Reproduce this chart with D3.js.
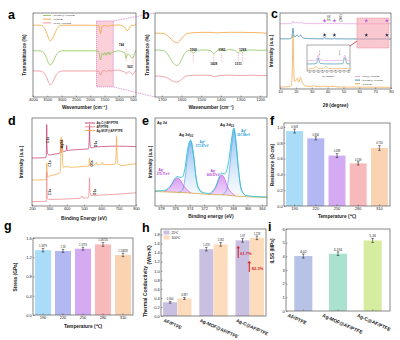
<!DOCTYPE html>
<html>
<head>
<meta charset="utf-8">
<script src="https://cdn.jsdelivr.net/npm/d3@7"></script>
<style>
  body { margin: 0; background: #fff; }
  svg { display: block; }
</style>
</head>
<body>
<svg id="fig" width="400" height="340"></svg>
<script>

// ---------- a: FTIR, [wavenumber, transmittance]
var ftirAF = [[4000,85.5],[3800,85.5],[3700,85],[3600,82],[3520,76],[3450,69.5],[3400,67],[3340,68.5],[3270,73],[3180,80],[3080,84.5],[2950,85.5],[2500,85.5],[2000,85.5],[1800,85.3],[1700,84.8],[1665,80],[1640,75.5],[1615,79],[1585,84.5],[1500,85],[1420,84.3],[1300,85],[1200,85.5],[1100,85.5],[1000,85.8],[900,85],[800,83],[720,79],[680,79.5],[620,83],[560,85.5],[480,85],[400,87]];
var ftirMOF = [[4000,55],[3800,55],[3700,54.5],[3600,51.5],[3520,46],[3450,40],[3400,38],[3340,39.5],[3270,44],[3180,50.5],[3080,54],[2950,55],[2500,55],[2000,55],[1800,55],[1700,54],[1665,48],[1640,44],[1615,47],[1585,52],[1540,50],[1500,53],[1440,49.5],[1400,53],[1382,51],[1340,53.5],[1311,50],[1290,52],[1200,53.5],[1100,54.5],[1000,55],[900,54],[800,53],[744,46],[700,51],[620,50],[560,47],[503,46.5],[450,52],[400,55]];
var ftirC = [[4000,31],[3800,31],[3700,30.5],[3600,28],[3520,23],[3450,17],[3400,14.5],[3340,16],[3270,20.5],[3180,26.5],[3080,30],[2950,31],[2500,31],[2000,31],[1800,31],[1700,30.5],[1665,28],[1640,26],[1615,27.5],[1585,30.5],[1500,31.5],[1430,30],[1380,31.5],[1300,31],[1200,31.5],[1100,32],[1000,32],[900,31],[800,30],[744,27.5],[700,29.5],[620,30],[560,28],[503,27],[450,30],[400,32]];
var ftirTicks = [4000,3500,3000,2500,2000,1500,1000,500];
var ftirMarks = [744, 503];

// ---------- b: FTIR zoom 1735-1165
var zoomAF = [[1735,76],[1700,75.8],[1680,74.5],[1660,70.5],[1640,66],[1625,64.5],[1610,66.5],[1595,71],[1580,74.5],[1560,76],[1520,76.8],[1480,77],[1440,76.8],[1420,76.2],[1400,76.8],[1350,77],[1300,77],[1250,76.8],[1200,76.5],[1165,76]];
var zoomMOF = [[1735,56],[1700,55.5],[1680,53.5],[1660,47],[1640,40],[1625,37.5],[1610,40],[1595,47],[1580,53],[1560,55.5],[1540,52.5],[1520,55.5],[1480,56],[1450,55],[1436,51.5],[1420,55],[1395,57],[1380,55],[1360,56.5],[1330,55.5],[1311,52.5],[1298,55],[1289,53],[1275,55.5],[1240,56],[1200,55.5],[1165,56]];
var zoomC = [[1735,25],[1700,24.5],[1680,23.5],[1660,21],[1640,18.5],[1625,17.8],[1610,19],[1595,22],[1580,24.5],[1560,25.5],[1500,26],[1450,25.5],[1430,24],[1410,25.5],[1350,26],[1300,25.5],[1250,26],[1200,25.5],[1165,25.5]];
var zoomTicks = [1700,1600,1500,1400,1300,1200];
var zoomMarks = [1540, 1436, 1395, 1311, 1289];
var zoomMarkLabels = ["1568", "1428", "1382", "1311", "1288"];
var zoomMarkUp = [true, false, true, false, true];

// ---------- c: XRD, [2theta, intensity]
var xrdAF = [[10,2.5],[15,3],[16.5,3.5],[17.3,6],[17.8,30],[18.2,71],[18.6,35],[19.0,12],[19.6,10],[20.3,12.5],[20.9,14.5],[21.5,10],[22.0,9],[22.5,13],[23.0,15.5],[23.6,11],[24.5,7],[26,4.5],[28,3.5],[30,3.5],[31,5],[32,3.5],[36,3],[38.1,4],[40,3],[44.3,3.5],[46,2.8],[50,2.5],[60,2.5],[70,2.3],[80,2.2]];
var xrdMOF = [[10,66],[16,66],[17.3,67],[17.8,73],[18.2,80],[18.6,73],[19.2,68.5],[20.3,70],[20.9,71],[21.6,69],[22.2,69.5],[23,71],[23.8,68.5],[25,67],[28,66.3],[35,66],[37.5,66],[38.1,68],[38.7,66],[43.8,66],[44.3,67.5],[44.8,66],[60,65.8],[80,65.8]];
var xrdC = [[10,85.8],[16,86],[17.5,86.5],[18.2,89.5],[18.8,86.8],[20.5,87.5],[21.5,86.8],[23,87.8],[24,86.8],[28,86],[37.5,86],[38.1,87.5],[38.7,86],[43.8,86],[44.3,87.2],[44.8,86],[60,85.8],[80,85.8]];
var starPos = [38.1, 44.3, 64.4, 77.4];
var xrdTicks = [10,20,30,40,50,60,70,80];
var insetAF = [[35.5,8],[36.8,9],[37.5,16],[38.2,10],[39.2,10],[39.8,17],[40.5,10],[42,8.5],[44.3,9.5],[45.5,8]];
var insetMOF = [[35.5,27],[37,27.5],[37.7,29],[38.1,50],[38.5,30],[39.5,27.5],[42,27],[43.8,28],[44.3,52],[44.8,28],[45.5,27]];
var insetC = [[35.5,40],[37,40.5],[37.7,42],[38.1,62],[38.5,43],[39.5,40.5],[42,40],[43.8,41],[44.3,61],[44.8,41],[45.5,40]];
var insetTicks = [36,37,38,39,40,41,42,43,44,45];

// ---------- d: XPS survey, [binding energy, intensity]
var xpsC = [[200,54.5],[270,54.8],[281,55.5],[284,70],[285,92.5],[286.5,68],[290,59],[300,58],[330,59],[360,60],[366,66],[368,74],[370,65],[372,66],[374,70],[376,63],[385,62],[398,63],[400,69],[402,63],[420,63.5],[500,64.5],[525,65],[530,75],[532,92.5],[534,72],[540,66],[560,67],[600,67.5],[700,68],[800,67.5]];
var xpsMOF = [[200,29.5],[270,29.8],[282,30.5],[284,40],[285,49],[286.5,38],[290,33],[300,34],[340,36],[362,38],[366,55],[368,78],[370,60],[372,63],[374,76],[376,52],[380,44],[400,45],[420,44],[500,45],[528,45.5],[532,54.5],[536,46],[565,47],[573,50],[577,46.5],[600,48],[606,50],[612,47],[680,47.5],[686,65],[688,79],[690,62],[695,48],[720,46],[760,47],[800,48]];
var xpsAF = [[200,5],[270,5.2],[282,5.5],[284,25],[285,39],[286.5,20],[290,8],[300,7.5],[400,8],[480,9],[488,11.5],[495,9],[525,9.5],[530,20],[532,32],[534,18],[540,12],[600,12.5],[700,13.5],[800,15]];
var xpsTicks = [200,300,400,500,600,700,800];

// ---------- e: Ag 3d fit
var agBase = [[378.8,14.5],[377,14],[375,13.5],[373,12.5],[371,11.5],[369,11],[367,9.5],[365,9],[363.3,8.5]];
var agEnv = [[378.8,15],[377.6,15.5],[377,17.5],[376.5,22],[376.1,27],[375.71,29.5],[375.3,28.5],[375.0,29],[374.6,40],[374.3,56],[373.87,66],[373.45,50],[373.15,30],[372.7,17],[372.1,13.5],[371.4,12.5],[370.8,15],[370.3,21],[369.9,29],[369.57,33],[369.2,32],[368.9,35],[368.5,50],[368.2,67],[367.88,78],[367.55,61],[367.25,37],[366.85,17],[366.2,10.5],[365,9.5],[363.3,9]];
var ag0a = [[375.6,13.5],[375.0,16],[374.6,30],[374.3,50],[373.87,65],[373.45,50],[373.15,30],[372.7,16],[372.1,12.8]];
var ag0b = [[369.5,11],[368.9,16],[368.5,36],[368.2,60],[367.88,77],[367.55,60],[367.25,36],[366.85,16],[366.2,10]];
var agPa = [[377.6,14.3],[377,16.5],[376.5,21],[376.1,26],[375.71,28],[375.3,26],[374.9,21],[374.4,16.5],[373.8,13]];
var agPb = [[371.4,11.5],[370.8,14],[370.3,20],[369.9,28],[369.57,31],[369.2,28],[368.8,20],[368.3,14],[367.7,10.5]];
var agTicks = [378,376,374,372,370,368,366,364];

// ---------- f, g: bars vs temperature
var temps = ["190", "220", "250", "280", "310"];
var resistance = [0.948, 0.856, 0.638, 0.539, 0.734];
var resistanceErr = [0.025, 0.02, 0.025, 0.02, 0.03];
var resistanceLbl = ["0.948", "0.856", "0.638", "0.539", "0.734"];
var stress = [1.3479, 1.33, 1.3776, 1.46726, 1.24828];
var stressErr = [0.035, 0.03, 0.03, 0.04, 0.035];
var stressLbl = ["1.3479", "1.33", "1.3776", "1.46726", "1.24828"];
var tempColors = ["#a9dcf8", "#b3b8f2", "#d4aaf2", "#f8b9bb", "#fad3b2"];

// ---------- h: thermal conductivity
var samples = ["AF/PTFE", "Ag-MOF@AF/PTFE", "Ag-C@AF/PTFE"];
var tc25 = [0.304, 1.476, 1.67];
var tc100 = [0.387, 1.582, 1.728];
var tcErr = [0.02, 0.04, 0.04];
var tc25Lbl = ["0.304", "1.476", "1.67"];
var tc100Lbl = ["0.387", "1.582", "1.728"];

// ---------- i: ILSS
var ilss = [4.02, 4.194, 5.16];
var ilssErr = [0.15, 0.13, 0.15];
var ilssLbl = ["4.02", "4.194", "5.16"];
var ilssColors = ["#b6c3e6", "#abe1cf", "#d6ed9f"];

var fontFam = '"Liberation Sans", Arial, sans-serif';
var svg = d3.select("#fig");

function txt(x, y, s, size, opt) {
    opt = opt || {};
    var t = svg.append("text").attr("x", x).attr("y", y).text(s)
        .attr("font-size", size).attr("font-family", fontFam)
        .attr("fill", opt.fill || "#222")
        .attr("text-anchor", opt.anchor || "middle")
        .attr("font-weight", opt.weight || "normal");
    if (opt.rot) t.attr("transform", "rotate(" + opt.rot + "," + x + "," + y + ")");
    return t;
}

function tickStyle(g) {
    g.attr("font-size", 4).attr("font-family", fontFam);
    g.select(".domain").remove();
    g.selectAll("line").attr("stroke", "#444").attr("stroke-width", 0.5);
    g.selectAll("text").attr("fill", "#222");
}

function bottomAxis(scale, y, ticks, fmt) {
    var a = d3.axisBottom(scale).tickSize(-1.5).tickPadding(1.2);
    if (ticks) a.tickValues(ticks).tickFormat(fmt || d3.format("d"));
    svg.append("g").attr("transform", "translate(0," + y + ")").call(a).call(tickStyle);
}

function leftAxis(scale, x, ticks, fmt) {
    var a = d3.axisLeft(scale).tickSize(-1.5).tickPadding(1.2);
    if (ticks) a.tickValues(ticks);
    if (fmt) a.tickFormat(fmt);
    svg.append("g").attr("transform", "translate(" + x + ",0)").call(a).call(tickStyle);
}

function frame(x0, y0, x1, y1) {
    svg.append("rect").attr("x", x0).attr("y", y0)
        .attr("width", x1 - x0).attr("height", y1 - y0)
        .attr("fill", "none").attr("stroke", "#555").attr("stroke-width", 0.7);
}

function curve(data, x, y, color, w) {
    var line = d3.line().x(function(d) { return x(d[0]); })
        .y(function(d) { return y(d[1]); })
        .curve(d3.curveMonotoneX);
    return svg.append("path").datum(data).attr("d", line)
        .attr("fill", "none").attr("stroke", color).attr("stroke-width", w || 0.8);
}

function letter(x, y, s) {
    txt(x, y, s, 12.5, {anchor: "start", weight: "bold", fill: "#000"});
}

var cOrange = "#f5a33a", cGreen = "#8cc55a", cPink = "#ee8c96";

// ================= a
var ax = d3.scaleLinear().domain([4000, 400]).range([33, 136]);
var ay = d3.scaleLinear().domain([0, 100]).range([97, 13]);

svg.append("rect").attr("x", ax(1780)).attr("y", ay(90.5))
    .attr("width", ax(1195) - ax(1780)).attr("height", ay(12) - ay(90.5))
    .attr("fill", "#fbd0d8").attr("stroke", "#c55fc0")
    .attr("stroke-width", 0.6).attr("stroke-dasharray", "1.2,0.8");

curve(ftirAF, ax, ay, cOrange);
curve(ftirMOF, ax, ay, cGreen);
curve(ftirC, ax, ay, cPink);

ftirMarks.forEach(function(m, i) {
    svg.append("line").attr("x1", ax(m)).attr("x2", ax(m))
        .attr("y1", ay(i == 0 ? 59 : 51)).attr("y2", ay(i == 0 ? 42 : 35))
        .attr("stroke", "#f08a96").attr("stroke-width", 0.6).attr("stroke-dasharray", "1,0.8");
});
txt(121.5, 45.5, "744", 3.2, {weight: "bold"});
txt(130, 67.5, "503", 3.2, {weight: "bold"});

[["Ag-MOF@AF/PTFE", cGreen], ["AF/PTFE", cOrange], ["Ag-C@AF/PTFE", cPink]].forEach(function(d, i) {
    var yy = 15.5 + i * 3.7;
    svg.append("line").attr("x1", 43).attr("x2", 51).attr("y1", yy).attr("y2", yy)
        .attr("stroke", d[1]).attr("stroke-width", 0.9);
    txt(52.5, yy + 0.9, d[0], 2.5, {anchor: "start"});
});

frame(33, 13, 136, 97);
bottomAxis(ax, 97, ftirTicks);
txt(84.5, 108.5, "Wavenumber (cm⁻¹)", 4.8, {weight: "bold"});
txt(26, 55, "Transmittance (%)", 4.8, {rot: -90, weight: "bold"});
letter(8, 18.5, "a");

// connector lines a -> b
[[ay(90.5), 13], [ay(12), 97]].forEach(function(p) {
    svg.append("line").attr("x1", ax(1195)).attr("y1", p[0]).attr("x2", 155).attr("y2", p[1])
        .attr("stroke", "#c55fc0").attr("stroke-width", 0.6).attr("stroke-dasharray", "1.5,1");
});

// ================= b
var bx = d3.scaleLinear().domain([1735, 1165]).range([155, 267]);
var by = d3.scaleLinear().domain([0, 100]).range([97, 13]);
curve(zoomAF, bx, by, cOrange);
curve(zoomMOF, bx, by, cGreen);
curve(zoomC, bx, by, cPink);

zoomMarks.forEach(function(m, i) {
    svg.append("line").attr("x1", bx(m)).attr("x2", bx(m))
        .attr("y1", by(52)).attr("y2", by(41))
        .attr("stroke", "#f08a96").attr("stroke-width", 0.6).attr("stroke-dasharray", "1,0.8");
    txt(bx(m), zoomMarkUp[i] ? 51 : 65, zoomMarkLabels[i], 3.2, {weight: "bold"});
});

frame(155, 13, 267, 97);
bottomAxis(bx, 97, zoomTicks);
txt(211, 109, "Wavenumber (cm⁻¹)", 4.8, {weight: "bold"});
txt(148.5, 55, "Transmittance (%)", 4.8, {rot: -90, weight: "bold"});
letter(142, 18.5, "b");

// ================= c
var cx = d3.scaleLinear().domain([10, 80]).range([280, 391]);
var cy = d3.scaleLinear().domain([0, 100]).range([89, 13]);
var cBlue = "#2f7fa5", cViolet = "#e59de0";

curve(xrdAF, cx, cy, "#f0a040", 0.7);
curve(xrdMOF, cx, cy, cBlue, 0.7);
curve(xrdC, cx, cy, cViolet, 0.7);

svg.append("rect").attr("x", cx(58.5)).attr("y", cy(93.4))
    .attr("width", cx(78.7) - cx(58.5)).attr("height", cy(53.9) - cy(93.4))
    .attr("fill", "#f59aa8").attr("fill-opacity", 0.55)
    .attr("stroke", "#e06070").attr("stroke-width", 0.5).attr("stroke-dasharray", "1,0.7");

var star = d3.symbol().type(d3.symbolStar).size(5);
starPos.forEach(function(p) {
    svg.append("path").attr("d", star).attr("transform", "translate(" + cx(p) + "," + cy(90) + ")")
        .attr("fill", "#b45ce0");
    svg.append("path").attr("d", star).attr("transform", "translate(" + cx(p) + "," + cy(71) + ")")
        .attr("fill", "#1a2a4a");
});
txt(cx(41.5), 18, "(111)", 3, {rot: -90});
txt(cx(49), 18, "(200)", 3, {rot: -90});

// inset
var ix = d3.scaleLinear().domain([35.5, 45.5]).range([307, 350]);
var iy = d3.scaleLinear().domain([0, 100]).range([71, 45]);
svg.append("rect").attr("x", 307).attr("y", 45).attr("width", 43).attr("height", 26)
    .attr("fill", "#fff").attr("stroke", "#555").attr("stroke-width", 0.5);
curve(insetAF, ix, iy, "#f0a040", 0.6);
curve(insetMOF, ix, iy, cBlue, 0.6);
curve(insetC, ix, iy, cViolet, 0.6);
txt(ix(38.1) + 1.5, 53, "(111)", 2.4, {rot: -90});
txt(ix(44.3) - 4.5, 53, "(200)", 2.4, {rot: -90});
var ig = svg.append("g").attr("transform", "translate(0,71)")
    .call(d3.axisBottom(ix).tickValues(insetTicks).tickSize(-1).tickPadding(0.6));
tickStyle(ig);
ig.attr("font-size", 2);
txt(328.5, 77, "2θ (degree)", 2.4);
svg.append("line").attr("x1", 350).attr("y1", 46).attr("x2", 357).attr("y2", 41)
    .attr("stroke", "#d62828").attr("stroke-width", 0.8);

[["Ag-C@AF/PTFE", cViolet], ["Ag-MOF@AF/PTFE", cBlue], ["AF/PTFE", "#f0a040"]].forEach(function(d, i) {
    var yy = 76.5 + i * 3.6;
    svg.append("line").attr("x1", 355).attr("x2", 360).attr("y1", yy).attr("y2", yy)
        .attr("stroke", d[1]).attr("stroke-width", 0.9);
    txt(361.5, yy + 0.9, d[0], 2.4, {anchor: "start"});
});

frame(280, 13, 391, 89);
bottomAxis(cx, 89, xrdTicks);
txt(335.5, 106.5, "2θ (degree)", 4.8, {weight: "bold"});
txt(273, 51, "Intensity (a.u.)", 4.8, {rot: -90, weight: "bold"});
letter(271, 18, "c");

// ================= d
var dx = d3.scaleLinear().domain([200, 800]).range([32, 136]);
var dy = d3.scaleLinear().domain([0, 100]).range([206, 118]);
curve(xpsC, dx, dy, "#c4306c", 0.7);
curve(xpsMOF, dx, dy, cOrange, 0.7);
curve(xpsAF, dx, dy, "#f07f86", 0.7);

[[49, 140, "C1s"], [62.5, 144, "Ag3d"], [97, 144, "O1s"], [50.5, 163.5, "C1s"], [93, 163.5, "O1s"],
 [50.5, 192, "C1s"], [96, 192, "O1s"]].forEach(function(d) {
    txt(d[0], d[1], d[2], 3.4, {rot: -90, weight: "bold"});
});

[["Ag-C@AF/PTFE", "#c4306c"], ["AF/PTFE", "#f07f86"], ["Ag-MOF@AF/PTFE", cOrange]].forEach(function(d, i) {
    var yy = 123 + i * 3.8;
    svg.append("line").attr("x1", 85).attr("x2", 95).attr("y1", yy).attr("y2", yy)
        .attr("stroke", d[1]).attr("stroke-width", 0.9);
    txt(96.5, yy + 1, d[0], 2.9, {anchor: "start", weight: "bold"});
});

frame(32, 118, 136, 206);
bottomAxis(dx, 206, xpsTicks);
txt(84, 220, "Binding Energy (eV)", 4.8, {weight: "bold"});
txt(22.5, 162, "Intensity (a.u.)", 4.8, {rot: -90, weight: "bold"});
letter(8, 125, "d");

// ================= e
var ex = d3.scaleLinear().domain([378.8, 363.3]).range([155, 267]);
var ey = d3.scaleLinear().domain([0, 88]).range([206, 118]);

var defs = svg.append("defs");
var grad = defs.append("linearGradient").attr("id", "agBlue")
    .attr("x1", 0).attr("y1", 0).attr("x2", 0).attr("y2", 1);
grad.append("stop").attr("offset", 0).attr("stop-color", "#7fb6f0").attr("stop-opacity", 0.9);
grad.append("stop").attr("offset", 1).attr("stop-color", "#ffffff").attr("stop-opacity", 0.4);
var gradP = defs.append("linearGradient").attr("id", "agPurple")
    .attr("x1", 0).attr("y1", 0).attr("x2", 0).attr("y2", 1);
gradP.append("stop").attr("offset", 0).attr("stop-color", "#d28cf0").attr("stop-opacity", 0.85);
gradP.append("stop").attr("offset", 1).attr("stop-color", "#f3e0fa").attr("stop-opacity", 0.6);

function fillArea(data, fill) {
    var area = d3.area().x(function(d) { return ex(d[0]); })
        .y0(ey(0)).y1(function(d) { return ey(d[1]); })
        .curve(d3.curveMonotoneX);
    svg.append("path").datum(data).attr("d", area).attr("fill", fill);
}
fillArea(ag0a, "url(#agBlue)");
fillArea(ag0b, "url(#agBlue)");
fillArea(agPa, "url(#agPurple)");
fillArea(agPb, "url(#agPurple)");
fillArea(agBase, "#fff");

curve(ag0a, ex, ey, "#4a8fe8", 0.6);
curve(ag0b, ex, ey, "#4a8fe8", 0.6);
curve(agPa, ex, ey, "#c94ee0", 0.6);
curve(agPb, ex, ey, "#c94ee0", 0.6);
curve(agBase, ex, ey, "#d6a545", 0.8);
curve(agEnv, ex, ey, "#2bc4cf", 0.9);

txt(157, 124, "Ag 3d", 3.6, {anchor: "start", weight: "bold"});
var t1 = txt(179, 136, "Ag 3d", 3.8, {anchor: "start", weight: "bold"});
t1.append("tspan").attr("font-size", 2.6).attr("dy", 1).text("3/2");
var t2 = txt(220, 126, "Ag 3d", 3.8, {anchor: "start", weight: "bold"});
t2.append("tspan").attr("font-size", 2.6).attr("dy", 1).text("5/2");
txt(202, 143, "Ag⁰", 3.2, {fill: "#2a9de0", weight: "bold"});
txt(202, 147, "373.87eV", 3, {fill: "#2a9de0", weight: "bold"});
txt(243.5, 132, "Ag⁰", 3.2, {fill: "#2a9de0", weight: "bold"});
txt(243.5, 136, "367.88eV", 3, {fill: "#2a9de0", weight: "bold"});
txt(161, 170.5, "Ag⁺", 3.2, {fill: "#b03ccf", weight: "bold"});
txt(163, 174.5, "375.71eV", 3, {fill: "#b03ccf", weight: "bold"});
txt(213, 171.5, "Ag⁺", 3.2, {fill: "#b03ccf", weight: "bold"});
txt(213, 175.5, "369.57eV", 3, {fill: "#b03ccf", weight: "bold"});

frame(155, 118, 267, 206);
bottomAxis(ex, 206, agTicks);
txt(211, 217.5, "Binding energy (eV)", 4.8, {weight: "bold"});
txt(151.5, 162, "Intensity (a.u.)", 4.8, {rot: -90, weight: "bold"});
letter(142, 125, "e");

// ================= f, g: temperature bars
function tempBars(x0, y0, x1, y1, vals, errs, lbls, yMax, yTicks, fmt) {
    var x = d3.scaleBand().domain(temps).range([x0, x1]).paddingInner(0.2).paddingOuter(0.1);
    var y = d3.scaleLinear().domain([0, yMax]).range([y1, y0]);
    svg.append("g").selectAll("rect").data(temps).enter().append("rect")
        .attr("x", function(d) { return x(d); })
        .attr("y", function(d, i) { return y(vals[i]); })
        .attr("width", x.bandwidth())
        .attr("height", function(d, i) { return y1 - y(vals[i]); })
        .attr("fill", function(d, i) { return tempColors[i]; });
    temps.forEach(function(t, i) {
        var cx0 = x(t) + x.bandwidth() / 2;
        errorBar(cx0, y(vals[i] - errs[i]), y(vals[i] + errs[i]));
        txt(cx0, y(vals[i] + errs[i]) - 1.2, lbls[i], 2.6);
    });
    frame(x0, y0, x1, y1);
    bottomAxis(x, y1);
    leftAxis(y, x0, yTicks, fmt);
    return x;
}

function errorBar(x, ya, yb) {
    svg.append("path").attr("d", "M" + (x - 1.3) + "," + ya + "H" + (x + 1.3) +
        "M" + x + "," + ya + "V" + yb + "M" + (x - 1.3) + "," + yb + "H" + (x + 1.3))
        .attr("stroke", "#111").attr("stroke-width", 0.5).attr("fill", "none");
}

tempBars(284, 123, 390, 206, resistance, resistanceErr, resistanceLbl, 1.05,
    [0, 0.2, 0.4, 0.6, 0.8, 1.0], d3.format(".1f"));
txt(337, 217.5, "Temperature (℃)", 4.8, {weight: "bold"});
txt(273.5, 165, "Resistance (Ω·cm)", 4.8, {rot: -90, weight: "bold"});
letter(270, 125, "f");

tempBars(33, 238, 133, 315, stress, stressErr, stressLbl, 1.6,
    [0, 0.4, 0.8, 1.2, 1.6], d3.format(".1f"));
txt(83, 328, "Temperature (℃)", 4.8, {weight: "bold"});
txt(17, 277, "Stress (GPa)", 4.8, {rot: -90, weight: "bold"});
letter(4, 230, "g");

// ================= h
var hx0 = d3.scaleBand().domain(samples).range([161, 266]).paddingInner(0.2).paddingOuter(0.05);
var hx1 = d3.scaleBand().domain(["25", "100"]).range([0, hx0.bandwidth()]).padding(0.02);
var hy = d3.scaleLinear().domain([0, 1.9]).range([316, 230]);
var h25 = "#c9bfe0", h100 = "#fcdcbc";

samples.forEach(function(s, i) {
    [["25", tc25, tc25Lbl, h25], ["100", tc100, tc100Lbl, h100]].forEach(function(k) {
        var xx = hx0(s) + hx1(k[0]);
        svg.append("rect").attr("x", xx).attr("y", hy(k[1][i]))
            .attr("width", hx1.bandwidth()).attr("height", 316 - hy(k[1][i]))
            .attr("fill", k[3]);
        var xc = xx + hx1.bandwidth() / 2;
        errorBar(xc, hy(k[1][i] - tcErr[i]), hy(k[1][i] + tcErr[i]));
        txt(xc, hy(k[1][i] + tcErr[i]) - 1.2, k[2][i], 2.6);
    });
});

function upArrow(x, ya, yb) {
    svg.append("line").attr("x1", x).attr("x2", x).attr("y1", ya).attr("y2", yb + 2)
        .attr("stroke", "#d7262c").attr("stroke-width", 1.1);
    svg.append("path").attr("d", "M" + (x - 1.8) + "," + (yb + 2.5) + "L" + x + "," + yb + "L" + (x + 1.8) + "," + (yb + 2.5) + "Z")
        .attr("fill", "#d7262c");
}
var agcx = hx0("Ag-C@AF/PTFE");
upArrow(agcx + 3, hy(1.28), hy(1.55));
txt(agcx + 5, 254.5, "61.7%", 4, {anchor: "start", fill: "#d7262c", weight: "bold"});
upArrow(agcx + hx1("100") - 0.5, hy(0.97), hy(1.22));
txt(agcx + hx1("100") + 2, 269.5, "82.3%", 4, {anchor: "start", fill: "#d7262c", weight: "bold"});

[["25℃", h25], ["100℃", h100]].forEach(function(d, i) {
    svg.append("rect").attr("x", 163.5).attr("y", 230.5 + i * 5).attr("width", 6).attr("height", 4)
        .attr("fill", d[1]);
    txt(171.5, 233.8 + i * 5, d[0], 3.3, {anchor: "start"});
});

frame(161, 229, 266, 316);
leftAxis(hy, 161, d3.range(0, 1.81, 0.2), d3.format(".1f"));
samples.forEach(function(s) {
    txt(hx0(s) + hx0.bandwidth() / 2 - 14, 321.5, s, 4.6, {anchor: "start", weight: "bold", rot: 24});
});
var ht = txt(146.5, 317, "Thermal Conductivity", 5, {anchor: "start", weight: "bold", rot: -90});
ht.append("tspan").attr("dx", 1.5).attr("dy", 4).text("(W/m·K)");
letter(142, 232, "h");

// ================= i
var ix2 = d3.scaleBand().domain(samples).range([286, 390]).paddingInner(0.48).paddingOuter(0.24);
var iy2 = d3.scaleLinear().domain([0, 6]).range([311, 229]);
svg.append("g").selectAll("rect").data(samples).enter().append("rect")
    .attr("x", function(d) { return ix2(d); })
    .attr("y", function(d, i) { return iy2(ilss[i]); })
    .attr("width", ix2.bandwidth())
    .attr("height", function(d, i) { return 311 - iy2(ilss[i]); })
    .attr("fill", function(d, i) { return ilssColors[i]; });
samples.forEach(function(s, i) {
    var xc = ix2(s) + ix2.bandwidth() / 2;
    errorBar(xc, iy2(ilss[i] - ilssErr[i]), iy2(ilss[i] + ilssErr[i]));
    txt(xc, iy2(ilss[i] + ilssErr[i]) - 1.3, ilssLbl[i], 3.4);
    svg.append("circle").attr("cx", xc).attr("cy", 310).attr("r", 0.7).attr("fill", "#999");
    txt(xc - 16, 316.5, s, 4.8, {anchor: "start", weight: "bold", rot: 24});
});
frame(286, 229, 390, 311);
leftAxis(iy2, 286, [0, 1, 2, 3, 4, 5, 6], d3.format("d"));
txt(273.5, 251, "ILSS (MPa)", 4.8, {rot: -90, weight: "bold"});
letter(268, 231, "i");

</script>
</body>
</html>
